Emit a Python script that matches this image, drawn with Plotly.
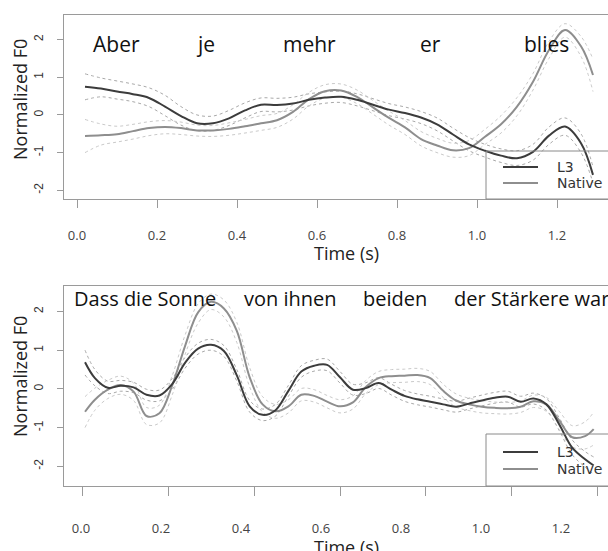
import plotly.graph_objects as go

W, H = 608, 551

# ---------------- data: top panel ("Aber je mehr er blies") ----------------
t_top = [0.02, 0.06, 0.10, 0.14, 0.18, 0.22, 0.26, 0.30, 0.34, 0.38, 0.42, 0.46, 0.50,
         0.54, 0.58, 0.62, 0.66, 0.70, 0.74, 0.78, 0.82, 0.86, 0.90, 0.94, 0.98, 1.02,
         1.06, 1.10, 1.14, 1.18, 1.22, 1.26, 1.29]
l3_top = [0.75, 0.70, 0.62, 0.55, 0.45, 0.22, -0.03, -0.22, -0.22, -0.09, 0.12, 0.27, 0.26,
          0.30, 0.40, 0.46, 0.48, 0.40, 0.27, 0.14, 0.05, -0.07, -0.25, -0.52, -0.78, -0.95,
          -1.08, -1.15, -0.98, -0.55, -0.31, -0.75, -1.59]
l3_top_hi = [1.09, 0.98, 0.90, 0.82, 0.72, 0.52, 0.22, 0.0, -0.03, 0.12, 0.32, 0.45, 0.44,
             0.47, 0.56, 0.61, 0.63, 0.56, 0.43, 0.30, 0.21, 0.09, -0.08, -0.35, -0.60, -0.78,
             -0.90, -0.95, -0.78, -0.32, -0.08, -0.50, -1.38]
l3_top_lo = [0.40, 0.48, 0.42, 0.35, 0.22, -0.02, -0.27, -0.42, -0.41, -0.28, -0.08, 0.09, 0.08,
             0.13, 0.24, 0.31, 0.33, 0.24, 0.11, -0.02, -0.11, -0.23, -0.42, -0.69, -0.95, -1.12,
             -1.26, -1.34, -1.20, -0.78, -0.54, -1.00, -1.80]
nat_top = [-0.56, -0.54, -0.51, -0.43, -0.35, -0.32, -0.35, -0.41, -0.41, -0.37, -0.30, -0.22, -0.14,
           0.08, 0.42, 0.63, 0.65, 0.48, 0.20, -0.08, -0.33, -0.64, -0.81, -0.94, -0.88, -0.58,
           -0.25, 0.22, 0.88, 1.72, 2.25, 1.82, 1.06]
nat_top_hi = [-0.12, -0.24, -0.30, -0.25, -0.18, -0.15, -0.19, -0.27, -0.28, -0.21, -0.12, -0.02, 0.04,
              0.27, 0.60, 0.80, 0.82, 0.66, 0.38, 0.10, -0.15, -0.44, -0.62, -0.75, -0.68, -0.38,
              -0.02, 0.46, 1.10, 1.95, 2.42, 2.08, 1.48]
nat_top_lo = [-1.00, -0.80, -0.72, -0.64, -0.55, -0.50, -0.52, -0.56, -0.57, -0.54, -0.48, -0.41, -0.33,
              -0.11, 0.24, 0.45, 0.47, 0.30, 0.02, -0.27, -0.52, -0.82, -1.00, -1.12, -1.08, -0.78,
              -0.48, -0.02, 0.66, 1.50, 2.06, 1.55, 0.62]
words_top = ["Aber", "je", "mehr", "er", "blies"]

# ---------------- data: bottom panel ("Dass die Sonne von ihnen beiden der Stärkere war") ----------------
t_bot = [0.007, 0.03, 0.06, 0.09, 0.12, 0.15, 0.18, 0.21, 0.24, 0.27, 0.30, 0.33, 0.36, 0.39,
         0.42, 0.45, 0.48, 0.51, 0.54, 0.57, 0.60, 0.63, 0.66, 0.69, 0.72, 0.75, 0.78, 0.81,
         0.84, 0.87, 0.90, 0.93, 0.96, 0.99, 1.02, 1.05, 1.08, 1.11, 1.14, 1.17, 1.19]
l3_bot = [0.69, 0.28, 0.03, 0.08, 0.04, -0.15, -0.17, 0.13, 0.68, 1.04, 1.14, 0.98, 0.35, -0.45,
          -0.67, -0.55, -0.05, 0.45, 0.60, 0.62, 0.30, -0.02, 0.02, 0.15, -0.02, -0.18, -0.27, -0.33,
          -0.40, -0.46, -0.38, -0.30, -0.23, -0.20, -0.33, -0.25, -0.40, -0.92, -1.52, -1.82, -1.98]
l3_bot_hi = [1.00, 0.50, 0.20, 0.22, 0.17, -0.01, -0.03, 0.27, 0.82, 1.18, 1.28, 1.12, 0.50, -0.30,
             -0.52, -0.40, 0.09, 0.60, 0.74, 0.77, 0.45, 0.12, 0.16, 0.29, 0.12, -0.04, -0.13, -0.19,
             -0.26, -0.32, -0.24, -0.16, -0.09, -0.06, -0.19, -0.11, -0.25, -0.75, -1.32, -1.62, -1.76]
l3_bot_lo = [0.36, 0.08, -0.12, -0.06, -0.10, -0.29, -0.31, -0.01, 0.54, 0.90, 1.00, 0.84, 0.20, -0.60,
             -0.82, -0.70, -0.19, 0.30, 0.46, 0.47, 0.15, -0.16, -0.12, 0.01, -0.16, -0.32, -0.41, -0.47,
             -0.54, -0.60, -0.52, -0.44, -0.37, -0.34, -0.47, -0.39, -0.55, -1.08, -1.70, -2.02, -2.20]
nat_bot = [-0.59, -0.28, -0.02, 0.10, -0.07, -0.70, -0.63, 0.10, 1.12, 1.98, 2.25, 2.08, 1.50, 0.30,
           -0.40, -0.58, -0.45, -0.15, -0.18, -0.33, -0.45, -0.35, 0.05, 0.28, 0.33, 0.34, 0.36, 0.28,
           -0.05, -0.30, -0.40, -0.46, -0.49, -0.50, -0.46, -0.32, -0.40, -0.82, -1.25, -1.22, -1.04]
nat_bot_hi = [-0.20, 0.02, 0.22, 0.33, 0.15, -0.48, -0.42, 0.35, 1.40, 2.20, 2.45, 2.30, 1.72, 0.55,
              -0.20, -0.40, -0.28, 0.01, -0.02, -0.17, -0.28, -0.18, 0.22, 0.45, 0.50, 0.51, 0.53, 0.45,
              0.12, -0.13, -0.24, -0.30, -0.34, -0.35, -0.31, -0.16, -0.22, -0.58, -0.95, -0.85, -0.60]
nat_bot_lo = [-1.00, -0.55, -0.25, -0.14, -0.30, -0.92, -0.88, -0.15, 0.90, 1.70, 2.05, 1.86, 1.20, 0.05,
              -0.60, -0.76, -0.62, -0.31, -0.34, -0.49, -0.62, -0.52, -0.12, 0.11, 0.16, 0.17, 0.19, 0.11,
              -0.22, -0.47, -0.56, -0.62, -0.64, -0.65, -0.61, -0.48, -0.58, -1.05, -1.50, -1.55, -1.45]
words_bot = ["Dass die Sonne", "von ihnen", "beiden", "der Stärkere war"]

x_ticks = [0.0, 0.2, 0.4, 0.6, 0.8, 1.0, 1.2]
x_ticktext = ["0.0", "0.2", "0.4", "0.6", "0.8", "1.0", "1.2"]
y_ticks = [-2, -1, 0, 1, 2]
y_ticktext = ["-2", "-1", "0", "1", "2"]
series_names = ["L3", "Native"]

# ---------------- styling ----------------
C_L3 = "#3c3c3c"
C_NAT = "#8e8e8e"
C_L3_BAND = "#a9a9a9"
C_NAT_BAND = "#cacaca"
AX = "#9a9a9a"


def px(x):
    return x / W


def py(y):
    return 1 - y / H


fig = go.Figure()


def add_panel(t, l3, l3hi, l3lo, nat, nathi, natlo, xa, ya):
    for arr, col in [(l3hi, C_L3_BAND), (l3lo, C_L3_BAND), (nathi, C_NAT_BAND), (natlo, C_NAT_BAND)]:
        fig.add_trace(go.Scatter(x=t, y=arr, mode="lines", xaxis=xa, yaxis=ya,
                                 line=dict(color=col, width=1, dash="dot", shape="spline", smoothing=1.0),
                                 showlegend=False, hoverinfo="skip"))
    fig.add_trace(go.Scatter(x=t, y=nat, mode="lines", xaxis=xa, yaxis=ya, name=series_names[1],
                             line=dict(color=C_NAT, width=2, shape="spline", smoothing=1.0),
                             showlegend=False))
    fig.add_trace(go.Scatter(x=t, y=l3, mode="lines", xaxis=xa, yaxis=ya, name=series_names[0],
                             line=dict(color=C_L3, width=2, shape="spline", smoothing=1.0),
                             showlegend=False))


add_panel(t_top, l3_top, l3_top_hi, l3_top_lo, nat_top, nat_top_hi, nat_top_lo, "x", "y")
add_panel(t_bot, l3_bot, l3_bot_hi, l3_bot_lo, nat_bot, nat_bot_hi, nat_bot_lo, "x2", "y2")

# invisible carrier for the tick-label axis of the lower panel
fig.add_trace(go.Scatter(x=x_ticks, y=[0] * len(x_ticks), mode="markers", xaxis="x3", yaxis="y2",
                         marker=dict(opacity=0), showlegend=False, hoverinfo="skip"))

tickfont_x = dict(family="Open Sans", size=13, color="#444")
tickfont_y = dict(family="Liberation Sans", size=12, color="#333")

common_x = dict(showgrid=False, zeroline=False, showline=True, linecolor=AX, linewidth=1,
                mirror=True, ticks="outside", tickcolor=AX, tickwidth=1, tickvals=x_ticks)
common_y = dict(showgrid=False, zeroline=False, showline=True, linecolor=AX, linewidth=1,
                ticks="outside", ticklen=6, tickcolor=AX, tickwidth=1, tickvals=y_ticks,
                ticktext=y_ticktext, tickangle=-90, tickfont=tickfont_y, ticklabelstandoff=9)

fig.update_layout(
    width=W, height=H, margin=dict(l=0, r=0, t=0, b=0),
    paper_bgcolor="white", plot_bgcolor="white", showlegend=False,
    xaxis=dict(domain=[px(64), 1], range=[-0.0325, 1.3275], anchor="y", ticklen=8,
               ticktext=x_ticktext, tickfont=tickfont_x, ticklabelstandoff=16, **common_x),
    yaxis=dict(domain=[py(199), py(15)], range=[-2.23, 2.65], anchor="x", **common_y),
    xaxis2=dict(domain=[px(64), 1], range=[-0.0419, 1.2233], anchor="y2", ticklen=9,
                showticklabels=False, **common_x),
    yaxis2=dict(domain=[py(486), py(286)], range=[-2.51, 2.66], anchor="x2", **common_y),
    xaxis3=dict(overlaying="x2", anchor="y2", side="bottom", range=[-0.0425, 1.3175],
                showgrid=False, zeroline=False, showline=False, ticks="",
                tickvals=x_ticks, ticktext=x_ticktext, tickfont=tickfont_x, ticklabelstandoff=33),
)

# word labels
word_font_top = dict(family="Open Sans", size=21, color="#111")
word_font_bot = dict(family="Open Sans", size=20, color="#111")
for w, xc in zip(words_top, [116, 205, 309, 430, 546]):
    fig.add_annotation(text=w, x=px(xc), y=py(44), xref="paper", yref="paper",
                       showarrow=False, font=word_font_top, xanchor="center", yanchor="middle")
for w, xl in zip(words_bot, [72, 242, 361, 452]):
    fig.add_annotation(text=w, x=px(xl), y=py(298), xref="paper", yref="paper",
                       showarrow=False, font=word_font_bot, xanchor="left", yanchor="middle")

# axis titles
for yc in [100, 377]:
    fig.add_annotation(text="Normalized F0", x=px(20), y=py(yc), xref="paper", yref="paper",
                       showarrow=False, textangle=-90, xanchor="center", yanchor="middle",
                       font=dict(family="Open Sans", size=18, color="#222"))
for yc in [253, 547]:
    fig.add_annotation(text="Time (s)", x=px(346), y=py(yc), xref="paper", yref="paper",
                       showarrow=False, xanchor="center", yanchor="middle",
                       font=dict(family="Open Sans", size=18, color="#222"))

# legends (drawn manually, one per panel)
leg_font = dict(family="DejaVu Sans", size=14, color="#333")
for top, bottom, y1, y2 in [(151, 199, 167, 183), (434, 486, 452, 469)]:
    fig.add_shape(type="rect", xref="paper", yref="paper", x0=px(486), x1=px(640),
                  y0=py(bottom), y1=py(top), line=dict(color="#8a8a8a", width=1))
    for name, yy, col in [(series_names[0], y1, C_L3), (series_names[1], y2, C_NAT)]:
        fig.add_shape(type="line", xref="paper", yref="paper", x0=px(503), x1=px(538),
                      y0=py(yy), y1=py(yy), line=dict(color=col, width=2))
        fig.add_annotation(text=name, x=px(555), y=py(yy), xref="paper", yref="paper",
                           showarrow=False, xanchor="left", yanchor="middle", font=leg_font)

fig.write_html("out.html", config={"displayModeBar": False},
               post_script="document.body.style.margin='0';")
